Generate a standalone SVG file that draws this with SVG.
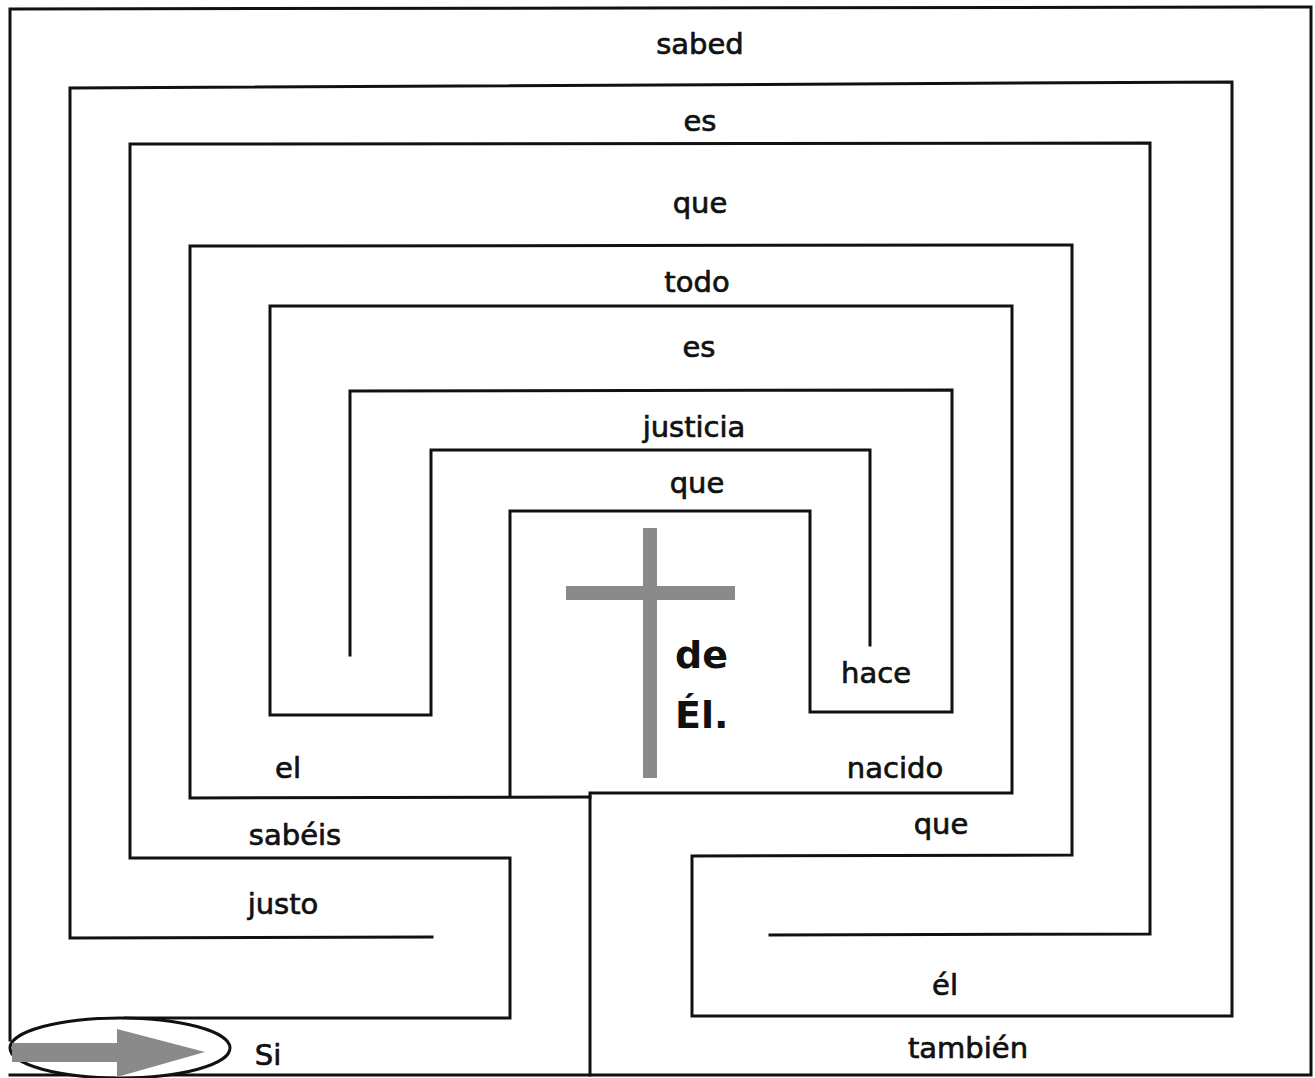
<svg xmlns="http://www.w3.org/2000/svg" width="1315" height="1078" viewBox="0 0 1315 1078">
<style>
.w{fill:none;stroke:#111;stroke-width:3;stroke-linecap:square;stroke-linejoin:miter}
.t{font-family:"DejaVu Sans","Liberation Sans",sans-serif;font-size:29px;fill:#111;stroke:#111;stroke-width:0.7;text-anchor:middle}
.b{font-family:"DejaVu Sans","Liberation Sans",sans-serif;font-size:38px;font-weight:bold;fill:#111}
.g{fill:#8a8a8a}
</style>
<rect width="1315" height="1078" fill="#fff"/>
<g id="walls">
<path class="w" d="M10,1040 L10,9 L1311,7 L1311,1075 L10,1075"/>
<path class="w" d="M432,937 L70,938 L70,88 L1232,82 L1232,1016 L692,1016 L692,856 L1072,855 L1072,245 L190,246 L190,798 L590,797"/>
<path class="w" d="M510,795 L510,511 L810,511 L810,712 L952,712 L952,390 L350,391 L350,655"/>
<path class="w" d="M590,1075 L590,793 L1012,793 L1012,306 L270,306 L270,715 L431,715 L431,450 L870,450 L870,645"/>
<path class="w" d="M770,935 L1150,934 L1150,143 L130,144 L130,858 L510,858 L510,1018 L125,1018"/>
</g>
<g id="start">
<ellipse cx="120" cy="1048" rx="110" ry="30" fill="#fff" stroke="#111" stroke-width="3"/>
<path class="g" d="M12,1043 L117,1043 L117,1029 L205,1052 L117,1077 L117,1062 L12,1062 Z"/>
</g>
<g id="cross">
<rect class="g" x="643" y="528" width="14" height="250"/>
<rect class="g" x="566" y="586" width="169" height="14"/>
</g>
<g id="words">
<text class="t" x="700" y="54">sabed</text>
<text class="t" x="700" y="131">es</text>
<text class="t" x="700" y="213">que</text>
<text class="t" x="697" y="292">todo</text>
<text class="t" x="699" y="357">es</text>
<text class="t" x="694" y="437">justicia</text>
<text class="t" x="697" y="493">que</text>
<text class="t" x="876" y="683">hace</text>
<text class="t" x="288" y="778">el</text>
<text class="t" x="895" y="778">nacido</text>
<text class="t" x="295" y="845">sabéis</text>
<text class="t" x="941" y="834">que</text>
<text class="t" x="283" y="914">justo</text>
<text class="t" x="945" y="995">él</text>
<text class="t" x="268" y="1065">Si</text>
<text class="t" x="968" y="1058">también</text>
<text class="b" x="675" y="668">de</text>
<text class="b" x="675" y="728">Él.</text>
</g>
</svg>
